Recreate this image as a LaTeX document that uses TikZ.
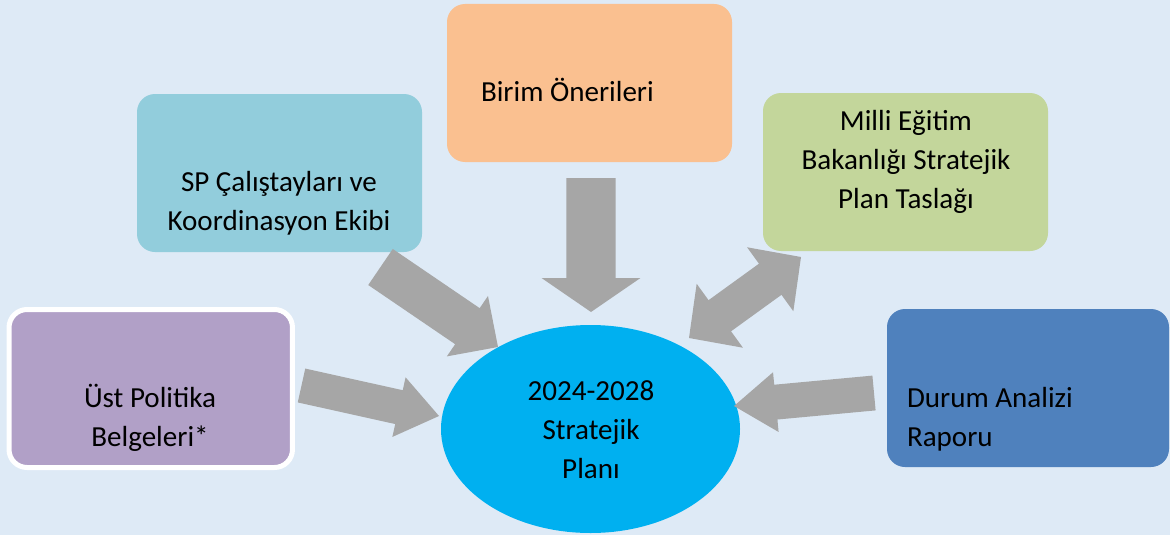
\documentclass[tikz,border=0pt]{standalone}
\usepackage{fontspec}
\setmainfont{Carlito}
\usetikzlibrary{calc,shapes.geometric}
\definecolor{bg}{HTML}{DEEAF6}
\definecolor{agray}{HTML}{A6A6A6}
\definecolor{cpurple}{HTML}{B1A0C7}
\definecolor{cteal}{HTML}{92CDDC}
\definecolor{corange}{HTML}{FAC090}
\definecolor{cgreen}{HTML}{C3D69B}
\definecolor{cblue}{HTML}{4F81BD}
\definecolor{ccyan}{HTML}{00B0F0}
\tikzset{
  boxshape/.style={rectangle, rounded corners=13.5pt, minimum width=213.75pt, minimum height=118.5pt, inner sep=0pt, outer sep=0pt},
  txt/.style={font=\fontsize{21.8}{29.25}\selectfont, inner sep=0pt, outer sep=0pt, text=black},
}
% tail, tip, shaft half-width, head half-width, head length
\newcommand\blockarr[5]{%
  \coordinate (#1-#2-b) at ($(#2)!#5!(#1)$);
  \fill[agray] ($(#1)!#3!90:(#2)$) -- ($(#1-#2-b)!#3!90:(#2)$) -- ($(#1-#2-b)!#4!90:(#2)$) -- (#2)
    -- ($(#1-#2-b)!#4!-90:(#2)$) -- ($(#1-#2-b)!#3!-90:(#2)$) -- ($(#1)!#3!-90:(#2)$) -- cycle;}
% tip A, tip B, shaft half-width, head half-width, head length
\newcommand\dblarr[5]{%
  \coordinate (#1-b) at ($(#1)!#5!(#2)$);
  \coordinate (#2-b) at ($(#2)!#5!(#1)$);
  \fill[agray] (#1) -- ($(#1-b)!#4!90:(#2)$) -- ($(#1-b)!#3!90:(#2)$) -- ($(#2-b)!#3!-90:(#1)$)
    -- ($(#2-b)!#4!-90:(#1)$) -- (#2) -- ($(#2-b)!#4!90:(#1)$) -- ($(#2-b)!#3!90:(#1)$)
    -- ($(#1-b)!#3!-90:(#2)$) -- ($(#1-b)!#4!-90:(#2)$) -- cycle;}
\begin{document}
\begin{tikzpicture}[x=0.75pt,y=-0.75pt]
\useasboundingbox (0,0) rectangle (1170,535);
\fill[bg] (0,0) rectangle (1170,535);

% boxes
\node[boxshape, fill=cpurple, draw=white, line width=3.75pt, minimum width=212.6pt] (ust) at (150.75,388.5) {};
\node[boxshape, fill=cteal] (sp) at (279.5,173) {};
\node[boxshape, fill=corange] (birim) at (589.5,83) {};
\node[boxshape, fill=cgreen] (meb) at (905.5,172) {};
\node[boxshape, fill=cblue, minimum width=211.5pt] (durum) at (1028,388) {};
\node[ellipse, fill=ccyan, minimum width=224.25pt, minimum height=156pt, inner sep=0pt] (plan) at (590.5,429) {};

% texts (anchor base = baseline of the last line)
\node[txt, align=center, anchor=base] (ustT) at (150,446) {Üst Politika\\Belgeleri*};
\node[txt, align=center, anchor=base] (spT) at (279,230) {SP Çalıştayları ve\\Koordinasyon Ekibi};
\node[txt, anchor=base west] (birimT) at (481,101) {Birim Önerileri};
\node[txt, align=center, anchor=base] (mebT) at (906,208) {Milli Eğitim\\Bakanlığı Stratejik\\Plan Taslağı};
\node[txt, align=left, anchor=base west] (durumT) at (907,446) {Durum Analizi\\Raporu};
\node[txt, align=center, anchor=base] (planT) at (591,478) {2024-2028\\Stratejik\\Planı};

% arrow end points
\coordinate (birimTail) at (591,178);
\coordinate (birimTip) at (591,312);
\coordinate (spTail) at (380.5,267);
\coordinate (spTip) at (498,347);
\coordinate (ustTail) at (301.5,385.5);
\coordinate (ustTip) at (439,416);
\coordinate (durumTail) at (874,393);
\coordinate (durumTip) at (734,406);
\coordinate (planEnd) at (689,338);
\coordinate (mebEnd) at (801,257);

\blockarr{birimTail}{birimTip}{18.4pt}{37.1pt}{25.5pt}
\blockarr{spTail}{spTip}{16.35pt}{27.4pt}{27.75pt}
\blockarr{ustTail}{ustTip}{13pt}{22.9pt}{30.75pt}
\blockarr{durumTail}{durumTip}{13.1pt}{22.5pt}{31.5pt}
\dblarr{planEnd}{mebEnd}{14.4pt}{29.6pt}{28.5pt}
\end{tikzpicture}
\end{document}
